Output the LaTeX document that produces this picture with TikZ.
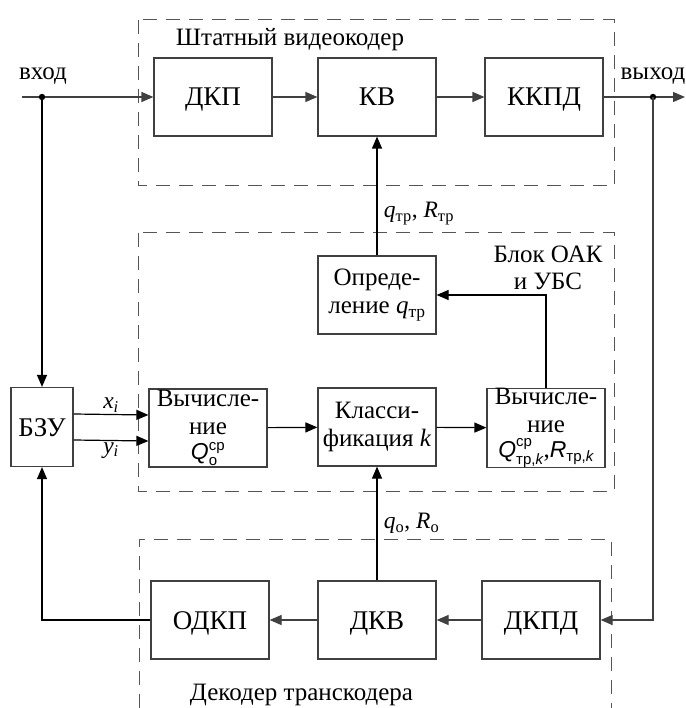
\documentclass[tikz,border=0pt]{standalone}
\usepackage{amsmath}
\usepackage{fontspec}
\setmainfont{Liberation Serif}
\newfontfamily\arialfont{Liberation Sans}
\usetikzlibrary{arrows.meta,positioning}
\definecolor{graycolor}{RGB}{64,64,64}
\definecolor{dashcolor}{RGB}{85,85,85}
\newcommand{\tightfont}{\fontsize{25}{27.5}\selectfont\lineskiplimit-20pt\relax}
\newcommand{\idx}[1]{\text{\arialfont\fontsize{15}{15}\selectfont #1}}
\newcommand{\qsym}[1]{{\arialfont\fontsize{23}{23}\selectfont\itshape #1}}

\begin{document}
\begin{tikzpicture}[x=1pt,y=-1pt,line width=1.2pt,
    every node/.style={font=\fontsize{25}{27}\selectfont},
    box/.style={draw=graycolor,minimum width=118pt,minimum height=78pt,
                inner sep=0pt,align=center,font=\fontsize{27}{29}\selectfont},
    onebox/.style={box,text height=18pt,text depth=0pt},
    smallbox/.style={box,font=\tightfont},
    lbl/.style={font=\fontsize{23.5}{25}\selectfont},
    frame/.style={dashcolor,line width=1pt,dash pattern=on 14pt off 9pt},
    garrow/.style={graycolor,-{Triangle[length=12pt,width=10pt]}},
    barrow/.style={black,-{Triangle[length=12pt,width=10pt]}}]

  \useasboundingbox (0,0) rectangle (685,708);

  % Dashed frames
  \draw[frame] (138,20) rectangle (614,186);
  \draw[frame] (138,233) rectangle (614,491);
  \draw[frame] (139,708) -- (139,539) -- (611,539) -- (611,708);
  \node[anchor=west] (coderlbl) at (172,40) {Штатный видеокодер};
  \node[align=center] (oaklbl) at (548,268) {Блок ОАК\\и УБС};
  \node[anchor=west] (decoderlbl) at (186,695) {Декодер транскодера};

  % Top row (encoder)
  \node[onebox] (dkp)  at (213,97) {ДКП};
  \node[onebox] (kv)   at (377,97) {КВ};
  \node[onebox] (kkpd) at (544,97) {ККПД};

  % Middle row
  \node[smallbox] (opr)   at (377,295) {Опреде-\\ление \textit{q}\textsubscript{тр}};
  \node[onebox,minimum width=62pt,minimum height=79pt] (bzu) at (42,427) {БЗУ};
  \node[smallbox] (vych1) at (208,428)
    {Вычисле-\\ние\\[-2pt]\qsym{Q}$^{\idx{ср}}_{\idx{о}}$};
  \node[smallbox] (klass) at (377,427) {Класси-\\фикация \textit{k}};
  \node[smallbox] (vych2) at (546,428)
    {Вычисле-\\ние\\[-2pt]\qsym{Q}$^{\idx{ср}}_{\idx{тр,\itshape k}}$,\qsym{R}$_{\idx{тр,\itshape k}}$};

  % Bottom row (decoder)
  \node[onebox] (odkp) at (210,620) {ОДКП};
  \node[onebox] (dkv)  at (377,620) {ДКВ};
  \node[onebox] (dkpd) at (541,620) {ДКПД};

  % Input and output
  \coordinate (in) at (22,97);
  \coordinate (out) at (685,97);
  \coordinate (split1) at (42,97);
  \coordinate (split2) at (653,97);
  \node (inlbl)  at (43,76) {вход};
  \node (outlbl) at (653,76) {выход};

  \draw[garrow] (in) -- (dkp.west);
  \draw[garrow] (dkp) -- (kv);
  \draw[garrow] (kv) -- (kkpd);
  \draw[garrow] (kkpd.east) -- (out);
  \fill (split1) circle (3.2pt);
  \fill (split2) circle (3.2pt);

  % Feedback and control paths
  \draw[barrow] (split1) -- (bzu.north);
  \draw[barrow] (opr.north) -- node[pos=0.35,right=3pt,lbl]
    {\textit{q}\textsubscript{тр}, \textit{R}\textsubscript{тр}} (kv.south);
  \draw[barrow] (vych2.north) |- (opr.east);
  \draw[barrow] ([yshift=13pt]bzu.east) -- node[above=-2pt,lbl]
    {\textit{x\textsubscript{i}}} ([yshift=13pt]vych1.west);
  \draw[barrow] ([yshift=-13pt]bzu.east) -- node[below=-2pt,lbl]
    {\textit{y\textsubscript{i}}} ([yshift=-13pt]vych1.west);
  \draw[barrow] (vych1) -- (klass);
  \draw[barrow] (klass) -- (vych2);
  \draw[barrow] (dkv.north) -- node[pos=0.5,right=3pt,lbl]
    {\textit{q}\textsubscript{о}, \textit{R}\textsubscript{о}} (klass.south);

  % Decoder chain
  \draw[garrow] (split2) |- (dkpd.east);
  \draw[garrow] (dkpd) -- (dkv);
  \draw[garrow] (dkv) -- (odkp);
  \draw[barrow] (odkp.west) -| (bzu.south);

\end{tikzpicture}
\end{document}
